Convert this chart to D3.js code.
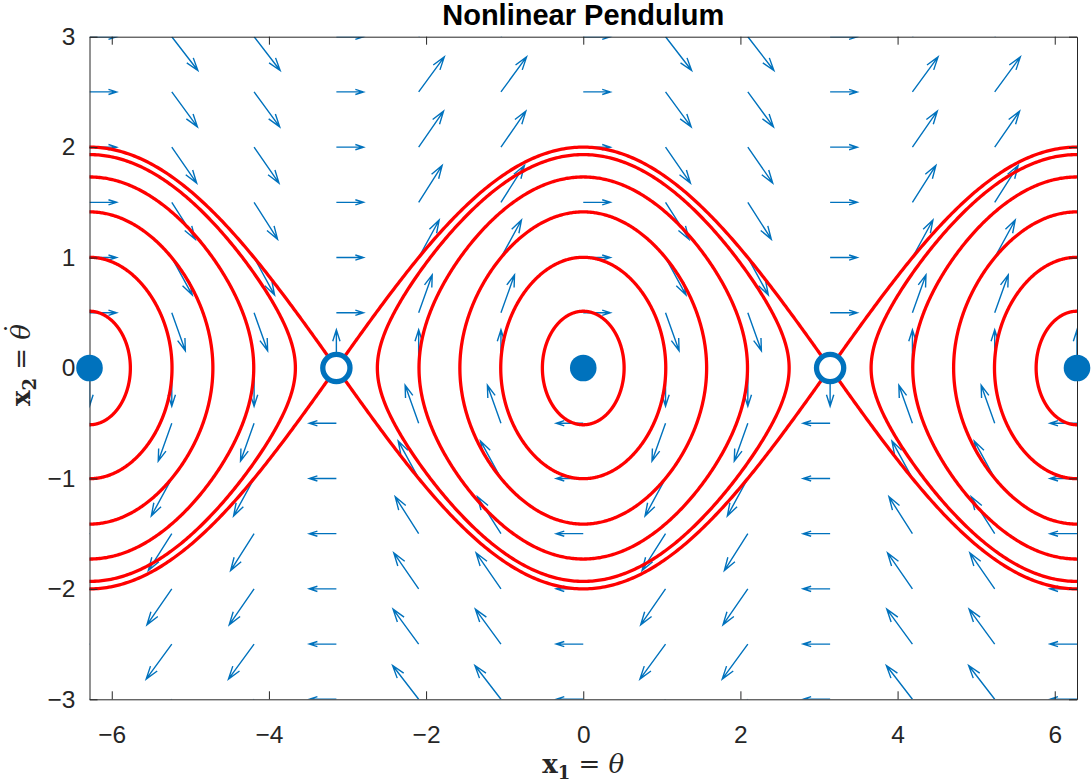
<!DOCTYPE html>
<html>
<head>
<meta charset="utf-8">
<script src="https://cdn.jsdelivr.net/npm/d3@7"></script>
<style>
  body { margin: 0; background: #fff; }
  svg { display: block; }
</style>
</head>
<body>
<div id="chart"></div>
<script>
// axis limits and ticks
const xLimits = [-6.2832, 6.2832];
const yLimits = [-3, 3];
const xTicks = [-6, -4, -2, 0, 2, 4, 6];
const yTicks = [-3, -2, -1, 0, 1, 2, 3];

// quiver grid: columns (theta) and rows (theta dot)
const gridX = [-6.2832, -5.236, -4.1888, -3.1416, -2.0944, -1.0472, 0,
               1.0472, 2.0944, 3.1416, 4.1888, 5.236, 6.2832];
const gridY = [-3, -2.5, -2, -1.5, -1, -0.5, 0, 0.5, 1, 1.5, 2, 2.5, 3];
// vertical rate per column (x2' = -sin x1) as read from arrow slopes
const colRate = [0, -0.866, -0.866, 0, 0.866, 0.866, 0,
                 -0.866, -0.866, 0, 0.866, 0.866, 0];
// direction of the lone vertical arrow drawn on the x2 = 0 row
const restKick = [-1, 0, 0, 1, 0, 0, 0, 0, 0, -1, 0, 0, 1];

// red trajectories: amplitude where each orbit crosses x2 = 0
const amplitudes = [0.52, 1.05, 1.57, 2.09, 2.62, 3.1416];
const orbitCenters = [-6.2832, 0, 6.2832];

// equilibria
const stablePts = [-6.2832, 0, 6.2832];
const saddlePts = [-3.1416, 3.1416];

const width = 1091, height = 784;
const plot = { left: 89.5, right: 1077, top: 36.7, bottom: 699.3 };
const blue = "#0072BD";
const ink = "#262626";

const x = d3.scaleLinear().domain(xLimits).range([plot.left, plot.right]);
const y = d3.scaleLinear().domain(yLimits).range([plot.bottom, plot.top]);

const svg = d3.select("#chart").append("svg")
  .attr("width", width)
  .attr("height", height);

svg.append("defs").append("clipPath")
  .attr("id", "plotclip")
  .append("rect")
  .attr("x", plot.left)
  .attr("y", plot.top)
  .attr("width", plot.right - plot.left)
  .attr("height", plot.bottom - plot.top);

const inner = svg.append("g").attr("clip-path", "url(#plotclip)");

// quiver arrows (unit length, MATLAB-like heads)
const arrowLen = 0.345;
const arrows = [];
gridX.forEach((gx, i) => {
  gridY.forEach(gy => {
    let u = gy, v = colRate[i];
    if (u === 0 && v === 0) v = restKick[i];
    if (u === 0 && v === 0) return;
    const L = Math.hypot(u, v);
    const du = arrowLen * u / L;
    const dv = arrowLen * v / Math.hypot(v, 0.15 * u);
    arrows.push({ x0: gx, y0: gy, x1: gx + du, y1: gy + dv });
  });
});

function arrowPath(d) {
  const ax = x(d.x0), ay = y(d.y0), bx = x(d.x1), by = y(d.y1);
  const dx = bx - ax, dy = by - ay;
  const a = 0.3, b = 0.32;
  const h1x = bx - a * (dx + b * dy), h1y = by - a * (dy - b * dx);
  const h2x = bx - a * (dx - b * dy), h2y = by - a * (dy + b * dx);
  return `M${ax},${ay}L${bx},${by}M${h1x},${h1y}L${bx},${by}L${h2x},${h2y}`;
}

inner.selectAll(".arrow")
  .data(arrows)
  .join("path")
  .attr("class", "arrow")
  .attr("d", arrowPath)
  .attr("fill", "none")
  .attr("stroke", blue)
  .attr("stroke-width", 1.4)
  .attr("stroke-linejoin", "miter");

// trajectories (level sets of the pendulum energy)
const orbits = [];
orbitCenters.forEach(c => {
  amplitudes.forEach(a => {
    const pts = d3.range(0, 721).map(k => {
      const t = k / 720 * 2 * Math.PI;
      const xx = a * Math.cos(t);
      const yy = Math.sign(Math.sin(t)) * Math.sqrt(Math.max(0, 2 * (Math.cos(xx) - Math.cos(a))));
      return [c + xx, yy];
    });
    orbits.push(pts);
  });
});

const line = d3.line().x(d => x(d[0])).y(d => y(d[1]));

inner.selectAll(".orbit")
  .data(orbits)
  .join("path")
  .attr("class", "orbit")
  .attr("d", line)
  .attr("fill", "none")
  .attr("stroke", "#FF0000")
  .attr("stroke-width", 3.3);

// axes box with inward ticks
function styleAxis(g) {
  g.attr("color", ink);
  g.selectAll("path.domain").attr("stroke-width", 1);
  g.selectAll("line").attr("stroke-width", 1);
  g.selectAll("text")
    .attr("font-family", "Liberation Sans, Arial, sans-serif")
    .attr("font-size", 24.5)
    .attr("fill", ink);
}

const fmt = d3.format("d");

svg.append("g")
  .attr("transform", `translate(0,${plot.bottom})`)
  .call(d3.axisBottom(x).tickValues(xTicks).tickFormat(fmt).tickSizeInner(-8).tickSizeOuter(0).tickPadding(26))
  .call(styleAxis);

svg.append("g")
  .attr("transform", `translate(0,${plot.top})`)
  .call(d3.axisTop(x).tickValues(xTicks).tickSizeInner(-8).tickSizeOuter(0).tickFormat(""))
  .call(styleAxis);

svg.append("g")
  .attr("transform", `translate(${plot.left},0)`)
  .call(d3.axisLeft(y).tickValues(yTicks).tickFormat(fmt).tickSizeInner(-8).tickSizeOuter(0).tickPadding(14))
  .call(styleAxis);

svg.append("g")
  .attr("transform", `translate(${plot.right},0)`)
  .call(d3.axisRight(y).tickValues(yTicks).tickSizeInner(-8).tickSizeOuter(0).tickFormat(""))
  .call(styleAxis);

// equilibria markers (drawn over the box, unclipped)
svg.selectAll(".stable")
  .data(stablePts)
  .join("circle")
  .attr("class", "stable")
  .attr("cx", d => x(d))
  .attr("cy", y(0))
  .attr("r", 13.3)
  .attr("fill", blue);

svg.selectAll(".saddle")
  .data(saddlePts)
  .join("circle")
  .attr("class", "saddle")
  .attr("cx", d => x(d))
  .attr("cy", y(0))
  .attr("r", 13.6)
  .attr("fill", "#fff")
  .attr("stroke", blue)
  .attr("stroke-width", 5.3);

// title
svg.append("text")
  .attr("x", (plot.left + plot.right) / 2)
  .attr("y", 25)
  .attr("text-anchor", "middle")
  .attr("font-family", "Liberation Sans, Arial, sans-serif")
  .attr("font-weight", "bold")
  .attr("font-size", 29)
  .attr("fill", "#000")
  .text("Nonlinear Pendulum");

// axis labels in a LaTeX-like serif
function mathLabel(sel, sub, rhs, dotted) {
  sel.attr("font-family", "DejaVu Serif, Liberation Serif, serif")
    .attr("font-size", 26)
    .attr("fill", ink)
    .attr("text-anchor", "middle");
  sel.append("tspan").attr("font-weight", "bold").text("x");
  sel.append("tspan").attr("font-weight", "bold").attr("font-size", 18).attr("dy", 6).text(sub);
  sel.append("tspan").attr("dy", -6).text(" = ");
  sel.append("tspan").attr("font-style", "italic").text(rhs);
  if (dotted) {
    sel.append("tspan").attr("dx", -11).attr("dy", -6).text("\u02D9");
  }
}

svg.append("text")
  .attr("x", (plot.left + plot.right) / 2)
  .attr("y", 773)
  .call(mathLabel, "1", "θ", false);

svg.append("text")
  .attr("transform", `translate(30,${y(0) - 4}) rotate(-90)`)
  .call(mathLabel, "2", "θ", true);
</script>
</body>
</html>
